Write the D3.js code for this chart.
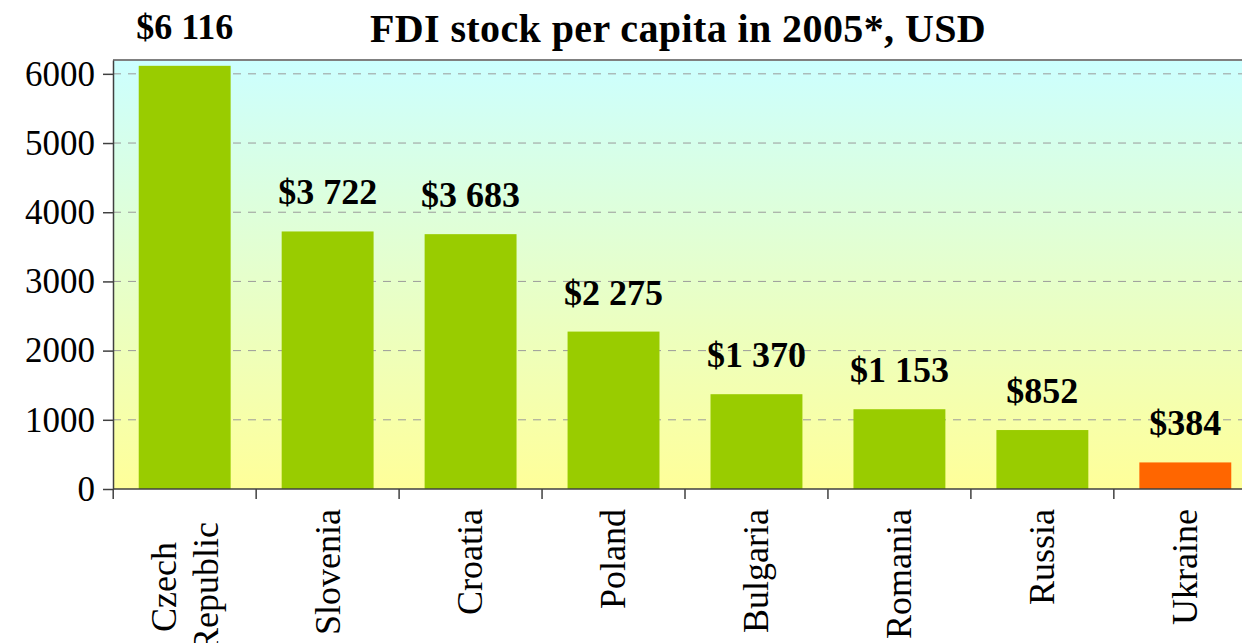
<!DOCTYPE html>
<html><head><meta charset="utf-8">
<script src="https://cdn.jsdelivr.net/npm/d3@7"></script>
<style>
html,body{margin:0;background:#fff;overflow:hidden;}
svg{display:block;font-family:"Liberation Serif","Times New Roman",serif;}
</style></head><body><div id="chart"></div>
<script>
const countries = ["Czech Republic", "Slovenia", "Croatia", "Poland", "Bulgaria", "Romania", "Russia", "Ukraine"];
const countryLines = [["Czech", "Republic"], ["Slovenia"], ["Croatia"], ["Poland"], ["Bulgaria"], ["Romania"], ["Russia"], ["Ukraine"]];
const fdiPerCapita = [6116, 3722, 3683, 2275, 1370, 1153, 852, 384];
const valueLabels = ["$6 116", "$3 722", "$3 683", "$2 275", "$1 370", "$1 153", "$852", "$384"];
const yTicks = [0, 1000, 2000, 3000, 4000, 5000, 6000];
const title = "FDI stock per capita in 2005*, USD";
const highlight = "Ukraine";

const W = 1242, H = 643, m = { l: 113, r: 1257, t: 60, b: 489 };
const data = countries.map((c, i) => ({ c, lines: countryLines[i], v: fdiPerCapita[i], lab: valueLabels[i] }));

const x = d3.scaleBand().domain(countries).range([m.l, m.r]).paddingInner(0.357).paddingOuter(0.18);
const y = d3.scaleLinear().domain([0, 6200]).range([m.b, m.t]);

const svg = d3.select("#chart").append("svg").attr("width", W).attr("height", H);

// background gradient
const grad = svg.append("defs").append("linearGradient").attr("id", "bg")
  .attr("gradientUnits", "userSpaceOnUse").attr("x1", 0).attr("x2", 0).attr("y1", m.t).attr("y2", m.b);
grad.append("stop").attr("offset", 0).attr("stop-color", "#CCFFFF");
grad.append("stop").attr("offset", 1).attr("stop-color", "#FFFF99");
svg.append("rect").attr("x", m.l).attr("y", m.t).attr("width", m.r - m.l).attr("height", m.b - m.t).attr("fill", "url(#bg)");

// gridlines
svg.append("g").selectAll("line").data(yTicks.filter((d) => d > 0)).join("line")
  .attr("x1", m.l).attr("x2", m.r).attr("y1", (d) => y(d)).attr("y2", (d) => y(d))
  .attr("stroke", "#9a9a9a").attr("stroke-width", 1).attr("stroke-dasharray", "8 7");

// bars
svg.append("g").selectAll("rect").data(data).join("rect")
  .attr("x", (d) => x(d.c)).attr("width", x.bandwidth())
  .attr("y", (d) => y(d.v)).attr("height", (d) => y(0) - y(d.v))
  .attr("fill", (d) => d.c === highlight ? "#FF6600" : "#99CC00");

// top border
svg.append("line").attr("x1", m.l).attr("x2", m.r).attr("y1", m.t).attr("y2", m.t)
  .attr("stroke", "#808080").attr("stroke-width", 2);

// y axis
const yAxis = svg.append("g").attr("transform", `translate(${m.l},0)`)
  .call(d3.axisLeft(y).tickValues(yTicks).tickFormat(d3.format("d")).tickSize(10).tickSizeOuter(0).tickPadding(8));
yAxis.select(".domain").attr("stroke", "#404040").attr("stroke-width", 1.5);
yAxis.selectAll(".tick line").attr("stroke", "#404040").attr("stroke-width", 1.5);
yAxis.selectAll("text").attr("font-size", 35).attr("fill", "#000").attr("font-family", "Liberation Serif");

// x axis
const gap = (x.step() - x.bandwidth()) / 2;
const xb = svg.append("g");
xb.append("line").attr("x1", m.l).attr("x2", m.r).attr("y1", m.b).attr("y2", m.b)
  .attr("stroke", "#404040").attr("stroke-width", 1.5);
xb.selectAll("line.tk").data(countries).join("line").attr("class", "tk")
  .attr("x1", (d) => x(d) - gap).attr("x2", (d) => x(d) - gap)
  .attr("y1", m.b).attr("y2", m.b + 10).attr("stroke", "#404040").attr("stroke-width", 1.5);

// category labels (rotated)
const lh = 42;
data.forEach((d) => {
  const cx = x(d.c) + x.bandwidth() / 2;
  const n = d.lines.length;
  const t = svg.append("text").attr("font-size", 36).attr("fill", "#000")
    .attr("transform", `translate(${cx},${n > 1 ? 587 : 509}) rotate(-90)`)
    .attr("text-anchor", n > 1 ? "middle" : "end");
  d.lines.forEach((ln, i) => {
    t.append("tspan").attr("x", 0).attr("y", (i - (n - 1) / 2) * lh).attr("dy", "0.33em").text(ln);
  });
});

// value labels
svg.append("g").selectAll("text").data(data).join("text")
  .attr("x", (d) => x(d.c) + x.bandwidth() / 2).attr("y", (d) => y(d.v) - 27)
  .attr("text-anchor", "middle").attr("font-size", 36).attr("font-weight", "bold").attr("fill", "#000")
  .text((d) => d.lab);

// title
svg.append("text").attr("x", 678).attr("y", 42).attr("text-anchor", "middle")
  .attr("font-size", 40).attr("font-weight", "bold").attr("letter-spacing", 0.4).text(title);
</script></body></html>
